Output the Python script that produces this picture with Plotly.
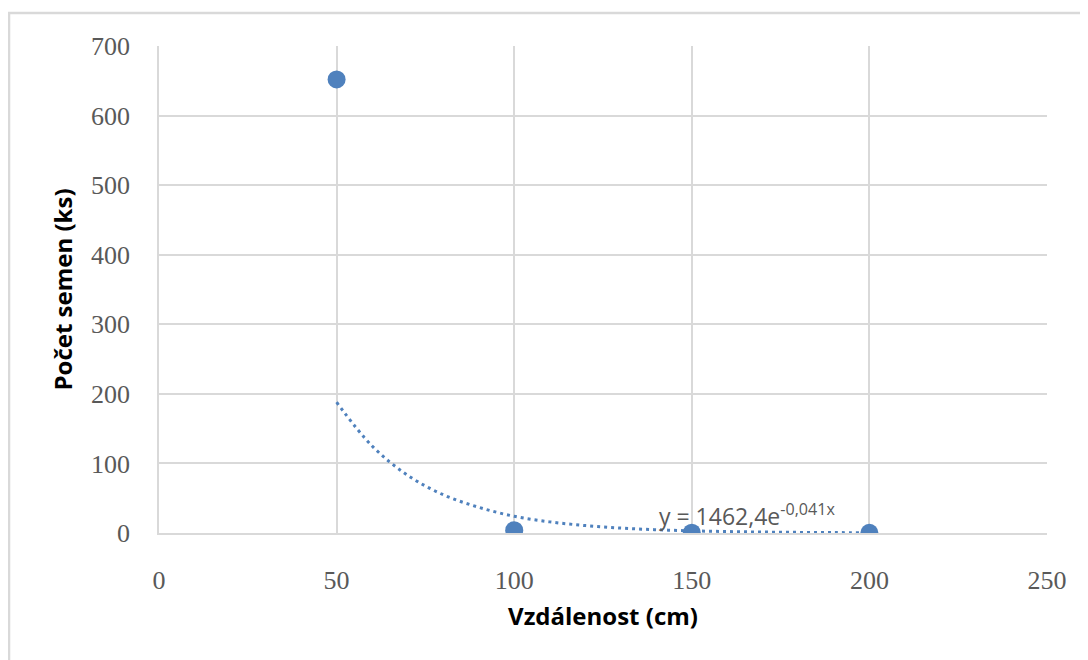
import plotly.graph_objects as go

# Measured data
distance = [50, 100, 150, 200]
seeds = [652, 4, 0.5, 0.2]

# Exponential trendline
trend_x = [50, 60, 70, 80, 90, 100, 110, 120, 130, 140, 150, 160, 170, 180, 190, 200]
trend_y = [188, 125, 83, 55, 37, 24, 16, 10.7, 7.1, 4.7, 3.1, 2.1, 1.4, 0.9, 0.6, 0.4]

x_ticks = [0, 50, 100, 150, 200, 250]
y_ticks = [0, 100, 200, 300, 400, 500, 600, 700]

equation = "y = 1462,4e<sup>-0,041x</sup>"
x_title = "Vzdálenost (cm)"
y_title = "Počet semen (ks)"

blue = "#4f81bd"
grid = "#d9d9d9"
tick_col = "#595959"
font_fam = "Open Sans, Liberation Sans, sans-serif"
tick_fam = "Liberation Serif, serif"

fig = go.Figure()
fig.add_trace(go.Scatter(
    x=trend_x, y=trend_y, mode="lines", line_shape="spline",
    line=dict(color=blue, width=3, dash="3px,4px"),
    showlegend=False, hoverinfo="skip"))
fig.add_trace(go.Scatter(
    x=distance, y=seeds, mode="markers",
    marker=dict(color=blue, size=18),
    showlegend=False))

fig.add_annotation(
    x=140.2, y=26, xref="x", yref="y", text=equation, showarrow=False,
    xanchor="left", yanchor="middle",
    font=dict(family=font_fam, size=23, color=tick_col))

# outer chart border
fig.add_shape(type="rect", xref="paper", yref="paper",
              x0=-0.1689, x1=1.2, y0=-0.3, y1=1.0678,
              line=dict(color=grid, width=2.5), fillcolor="rgba(0,0,0,0)", layer="below")

fig.update_layout(
    width=1088, height=660,
    margin=dict(l=151, r=49, t=38, b=135),
    paper_bgcolor="white", plot_bgcolor="white",
    font=dict(family=font_fam),
    xaxis=dict(range=[0, 250], tickvals=x_ticks, showgrid=True, gridcolor=grid, gridwidth=1.5,
               zeroline=False, showline=True, linecolor=grid, linewidth=1.5,
               ticks="", ticklabelstandoff=23,
               tickfont=dict(size=26, color=tick_col, family=tick_fam),
               title=dict(text=x_title, font=dict(size=24, color="black", family=font_fam, weight="bold"),
                          standoff=14)),
    yaxis=dict(range=[0, 700], tickvals=y_ticks, showgrid=True, gridcolor=grid, gridwidth=1.5,
               zeroline=False, showline=True, linecolor=grid, linewidth=1.5,
               ticks="", ticklabelstandoff=22,
               tickfont=dict(size=26, color=tick_col, family=tick_fam),
               title=dict(text=y_title, font=dict(size=24, color="black", family=font_fam, weight="bold"),
                          standoff=12)),
)

fig.write_html("out.html")
